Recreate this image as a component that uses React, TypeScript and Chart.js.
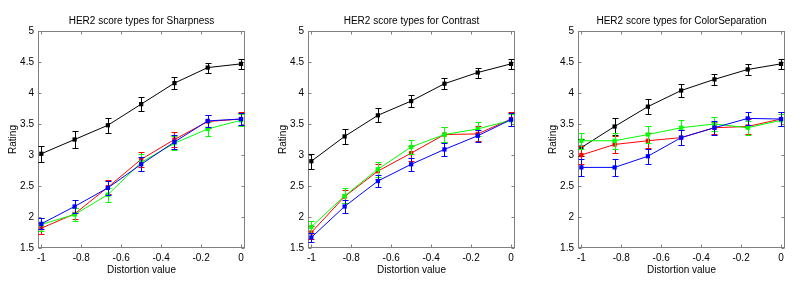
import React, { useEffect, useRef } from 'react';
import { Chart, registerables } from 'chart.js';

Chart.register(...registerables);

// ---- data ----
const xValues = [-1, -0.8333, -0.6667, -0.5, -0.3333, -0.1667, 0];
const xTicks = [-1, -0.8, -0.6, -0.4, -0.2, 0];
const yTicks = [1.5, 2, 2.5, 3, 3.5, 4, 4.5, 5];
const panelTitles = [
  'HER2 score types for Sharpness',
  'HER2 score types for Contrast',
  'HER2 score types for ColorSeparation',
];
const seriesColors = ['#000000', '#ff0000', '#00ff00', '#0000ff'];

// Sharpness
const sharpBlack = [3.02, 3.25, 3.48, 3.82, 4.16, 4.41, 4.47];
const sharpBlackErr = [0.13, 0.13, 0.12, 0.11, 0.1, 0.08, 0.08];
const sharpRed = [1.82, 2.05, 2.48, 2.93, 3.25, 3.54, 3.58];
const sharpRedErr = [0.09, 0.09, 0.11, 0.12, 0.12, 0.1, 0.11];
const sharpGreen = [1.88, 2.04, 2.36, 2.88, 3.19, 3.42, 3.56];
const sharpGreenErr = [0.1, 0.1, 0.11, 0.13, 0.11, 0.11, 0.1];
const sharpBlue = [1.89, 2.17, 2.47, 2.85, 3.21, 3.55, 3.58];
const sharpBlueErr = [0.09, 0.11, 0.11, 0.11, 0.11, 0.1, 0.1];

// Contrast
const contBlack = [2.9, 3.3, 3.64, 3.87, 4.15, 4.33, 4.47];
const contBlackErr = [0.12, 0.12, 0.11, 0.1, 0.09, 0.08, 0.08];
const contRed = [1.75, 2.33, 2.74, 3.03, 3.33, 3.34, 3.58];
const contRedErr = [0.1, 0.11, 0.12, 0.12, 0.12, 0.12, 0.11];
const contGreen = [1.84, 2.34, 2.77, 3.13, 3.33, 3.42, 3.56];
const contGreenErr = [0.09, 0.12, 0.12, 0.12, 0.12, 0.12, 0.1];
const contBlue = [1.67, 2.17, 2.58, 2.85, 3.09, 3.31, 3.57];
const contBlueErr = [0.07, 0.1, 0.1, 0.1, 0.11, 0.1, 0.11];

// ColorSeparation
const colBlack = [3.12, 3.46, 3.78, 4.04, 4.22, 4.38, 4.47];
const colBlackErr = [0.14, 0.14, 0.12, 0.11, 0.09, 0.09, 0.08];
const colRed = [3.0, 3.17, 3.23, 3.28, 3.44, 3.46, 3.58];
const colRedErr = [0.14, 0.14, 0.12, 0.12, 0.1, 0.12, 0.11];
const colGreen = [3.23, 3.23, 3.33, 3.44, 3.5, 3.44, 3.56];
const colGreenErr = [0.13, 0.13, 0.13, 0.13, 0.12, 0.11, 0.1];
const colBlue = [2.8, 2.8, 2.98, 3.28, 3.44, 3.59, 3.58];
const colBlueErr = [0.14, 0.14, 0.12, 0.12, 0.11, 0.11, 0.11];

const panelSeries = [
  [
    [sharpBlack, sharpBlackErr],
    [sharpRed, sharpRedErr],
    [sharpGreen, sharpGreenErr],
    [sharpBlue, sharpBlueErr],
  ],
  [
    [contBlack, contBlackErr],
    [contRed, contRedErr],
    [contGreen, contGreenErr],
    [contBlue, contBlueErr],
  ],
  [
    [colBlack, colBlackErr],
    [colRed, colRedErr],
    [colGreen, colGreenErr],
    [colBlue, colBlueErr],
  ],
];

const FONT = '"Liberation Sans", Arial, Helvetica, sans-serif';
const FRAME = '#808080';

const framePlugin = {
  id: 'frameTicks',
  beforeDatasetsDraw(chart: any) {
    const { ctx, chartArea, scales } = chart;
    const { left, right, top, bottom } = chartArea;
    const L = Math.round(left) + 0.5;
    const R = Math.round(right) - 0.5;
    const T = Math.round(top) + 0.5;
    const B = Math.round(bottom) - 0.5;
    ctx.save();
    ctx.strokeStyle = FRAME;
    ctx.lineWidth = 1;
    ctx.strokeRect(L, T, R - L, B - T);
    ctx.beginPath();
    const tl = 3;
    xTicks.forEach((v) => {
      const px = Math.round(scales.x.getPixelForValue(v)) + 0.5;
      ctx.moveTo(px, B);
      ctx.lineTo(px, B - tl);
      ctx.moveTo(px, T);
      ctx.lineTo(px, T + tl);
    });
    yTicks.forEach((v) => {
      const py = Math.round(scales.y.getPixelForValue(v)) + 0.5;
      ctx.moveTo(L, py);
      ctx.lineTo(L + tl, py);
      ctx.moveTo(R, py);
      ctx.lineTo(R - tl, py);
    });
    ctx.stroke();
    ctx.restore();
  },
  afterDraw(chart: any, _args: any, opts: any) {
    const { ctx, chartArea } = chart;
    ctx.save();
    ctx.fillStyle = '#000';
    ctx.font = '10px ' + FONT;
    ctx.textAlign = 'center';
    ctx.textBaseline = 'middle';
    ctx.fillText(opts.text || '', (chartArea.left + chartArea.right) / 2, 21);
    ctx.restore();
  },
};

const errorBarPlugin = {
  id: 'errorBars',
  afterDatasetDraw(chart: any, args: any) {
    const ds: any = chart.data.datasets[args.index];
    const errs: number[] = ds.errors || [];
    const meta = args.meta;
    const ys = chart.scales.y;
    const { ctx } = chart;
    ctx.save();
    ctx.strokeStyle = ds.borderColor;
    ctx.lineWidth = 1;
    ctx.beginPath();
    meta.data.forEach((pt: any, i: number) => {
      const v = ds.data[i].y;
      const e = errs[i] || 0;
      const px = Math.round(pt.x) + 0.5;
      const y1 = Math.round(ys.getPixelForValue(v + e)) + 0.5;
      const y2 = Math.round(ys.getPixelForValue(v - e)) + 0.5;
      ctx.moveTo(px, y1);
      ctx.lineTo(px, y2);
      ctx.moveTo(px - 3, y1);
      ctx.lineTo(px + 3, y1);
      ctx.moveTo(px - 3, y2);
      ctx.lineTo(px + 3, y2);
    });
    ctx.stroke();
    ctx.restore();
  },
};

function Panel({ index }: { index: number }) {
  const ref = useRef<HTMLCanvasElement | null>(null);
  useEffect(() => {
    if (!ref.current) return;
    const series = panelSeries[index];
    const datasets = series.map(([vals, errs], si) => ({
      data: xValues.map((x, i) => ({ x, y: vals[i] })),
      errors: errs,
      borderColor: seriesColors[si],
      backgroundColor: seriesColors[si],
      borderWidth: 1,
      pointStyle: 'rect',
      pointRadius: 3,
      pointBorderWidth: 0,
      pointHoverRadius: 3,
      tension: 0,
      fill: false,
      order: 4 - si,
    }));
    const chart = new Chart(ref.current, {
      type: 'line',
      data: { datasets: datasets as any },
      plugins: [framePlugin, errorBarPlugin],
      options: {
        animation: false,
        responsive: false,
        maintainAspectRatio: false,
        events: [],
        layout: { padding: { left: 0, right: 25, top: 31, bottom: 0 } },
        plugins: {
          legend: { display: false },
          tooltip: { enabled: false },
          title: { display: false },
          frameTicks: { text: panelTitles[index] },
        } as any,
        scales: {
          x: {
            type: 'linear',
            min: -1.0167,
            max: 0.02,
            grid: { display: false, drawTicks: false },
            border: { display: false },
            afterBuildTicks: (s: any) => {
              s.ticks = xTicks.map((v) => ({ value: v }));
            },
            afterFit: (s: any) => {
              s.height = 36;
            },
            ticks: {
              padding: 4,
              maxRotation: 0,
              autoSkip: false,
              color: '#000',
              font: { size: 10, family: FONT },
              callback: (v: any) => String(Number(Number(v).toFixed(1))),
            },
            title: {
              display: true,
              text: 'Distortion value',
              color: '#000',
              font: { size: 10, family: FONT },
              padding: { top: 0, bottom: 8 },
            },
          },
          y: {
            type: 'linear',
            min: 1.5,
            max: 5,
            grid: { display: false, drawTicks: false },
            border: { display: false },
            afterBuildTicks: (s: any) => {
              s.ticks = yTicks.map((v) => ({ value: v }));
            },
            afterFit: (s: any) => {
              s.width = 38;
            },
            ticks: {
              padding: 4,
              autoSkip: false,
              color: '#000',
              font: { size: 10, family: FONT },
              callback: (v: any) => String(Number(Number(v).toFixed(1))),
            },
            title: {
              display: true,
              text: 'Rating',
              color: '#000',
              font: { size: 10, family: FONT },
              padding: { top: 7, bottom: 0 },
            },
          },
        },
      } as any,
    });
    return () => chart.destroy();
  }, [index]);
  return (
    <div style={{ position: 'absolute', left: index * 270, top: 0, width: 270, height: 284 }}>
      <canvas ref={ref} width={270} height={284} style={{ width: 270, height: 284, display: 'block' }} />
    </div>
  );
}

export default function App() {
  return (
    <div
      style={{
        position: 'absolute',
        left: 0,
        top: 0,
        width: 810,
        height: 284,
        background: '#ffffff',
      }}
    >
      <Panel index={0} />
      <Panel index={1} />
      <Panel index={2} />
    </div>
  );
}
